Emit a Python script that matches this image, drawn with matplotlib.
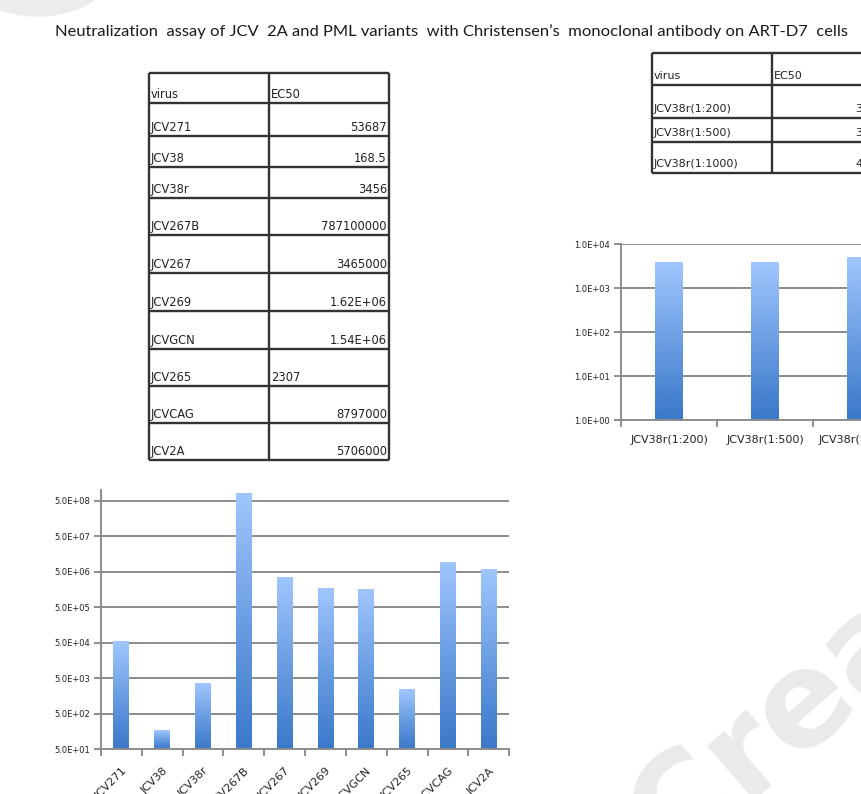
import numpy as np
import matplotlib
matplotlib.use("Agg")
import matplotlib.pyplot as plt
from matplotlib.colors import LinearSegmentedColormap
from matplotlib.image import BboxImage
from matplotlib.transforms import TransformedBbox
from matplotlib.ticker import FixedLocator, FuncFormatter, NullLocator
from matplotlib.patches import Ellipse

# ---------------- data ----------------
title = "Neutralization  assay of JCV  2A and PML variants  with Christensen\u2019s  monoclonal antibody on ART-D7  cells"

table_header = ["virus", "EC50"]
viruses = ["JCV271", "JCV38", "JCV38r", "JCV267B", "JCV267", "JCV269",
           "JCVGCN", "JCV265", "JCVCAG", "JCV2A"]
ec50 = [53687, 168.5, 3456, 787100000, 3465000, 1.62e6, 1.54e6, 2307, 8797000, 5706000]
ec50_text = ["53687", "168.5", "3456", "787100000", "3465000", "1.62E+06",
             "1.54E+06", "2307", "8797000", "5706000"]
ec50_left_aligned = [False, False, False, False, False, False, False, True, False, False]

dilutions = ["JCV38r(1:200)", "JCV38r(1:500)", "JCV38r(1:1000)"]
dil_ec50 = [3760, 3740, 4880]
dil_text = ["3760", "3740", "4880"]

bottom_yticks = [5e1, 5e2, 5e3, 5e4, 5e5, 5e6, 5e7, 5e8]
top_yticks = [1e0, 1e1, 1e2, 1e3, 1e4]

# ---------------- layout helpers ----------------
W, H = 862, 794
fig = plt.figure(figsize=(W / 100, H / 100), dpi=100)
fig.patch.set_facecolor("white")


def rect(x0, y0, x1, y1):
    return [x0 / W, 1 - y1 / H, (x1 - x0) / W, (y1 - y0) / H]


GRID = "#8c8c8c"
TXT = "#222222"
cmap = LinearSegmentedColormap.from_list("bargrad", ["#3a78c9", "#6a9ee3", "#a0c6fd"])

# overlay axes (pixel coordinates) for text, tables and watermark
ov = fig.add_axes([0, 0, 1, 1], zorder=-1)
ov.set_xlim(0, W)
ov.set_ylim(H, 0)
ov.axis("off")
ov.patch.set_visible(False)

# watermark (cut by the page edge, as in the source)
ov.add_patch(Ellipse((38, -32), 150, 96, color="#ececec", zorder=0))
ov.text(672, 866, "Crea", rotation=41, rotation_mode="anchor", ha="left",
        va="baseline", fontsize=95, color="#eaeaea", fontweight="bold",
        family="DejaVu Sans", zorder=0)

# title (fitted to width)
t = ov.text(55, 36, title, fontsize=10, family=["Lato", "DejaVu Sans"],
            va="baseline", ha="left", color="#1a1a1a")
fig.canvas.draw()
wpx = t.get_window_extent(fig.canvas.get_renderer()).width
t.set_fontsize(10 * 788 / wpx)

TABLE_FS = 8.3
LINE = dict(color="#333333", lw=1.7, solid_capstyle="butt", zorder=3)


def draw_table(rows_y, cols_x, cells, right_align_x, offset):
    for y in rows_y:
        ov.plot([cols_x[0], cols_x[-1]], [y, y], **LINE)
    for x in cols_x:
        ov.plot([x, x], [rows_y[0], rows_y[-1]], **LINE)
    for i, (name, val, left) in enumerate(cells):
        yb = rows_y[i + 1] - offset
        ov.text(cols_x[0] + 1.5, yb, name, fontsize=TABLE_FS, va="baseline",
                ha="left", color=TXT, zorder=4)
        if left:
            ov.text(cols_x[1] + 2, yb, val, fontsize=TABLE_FS, va="baseline",
                    ha="left", color=TXT, zorder=4)
        else:
            ov.text(right_align_x, yb, val, fontsize=TABLE_FS, va="baseline",
                    ha="right", color=TXT, zorder=4)


# left table
left_rows = [72.7, 103, 135.7, 166.7, 197.7, 235, 272.7, 310.7, 349.3, 385.7, 423.3, 460]
left_cols = [149, 269, 389]
cells = [(table_header[0], table_header[1], True)] + list(zip(viruses, ec50_text, ec50_left_aligned))
draw_table(left_rows, left_cols, cells, 387, 5)

# right table (cut by the page edge)
right_rows = [52.7, 85, 118.3, 141.7, 173.3]
right_cols = [651.7, 771.7, 905]
cells_r = [(table_header[0], table_header[1], True)] + [(d, v, False) for d, v in zip(dilutions, dil_text)]
for y in right_rows:
    ov.plot([right_cols[0], right_cols[-1]], [y, y], **LINE)
for x in right_cols[:2]:
    ov.plot([x, x], [right_rows[0], right_rows[-1]], **LINE)
for i, (name, val, left) in enumerate(cells_r):
    yb = right_rows[i + 1] - 6
    ov.text(right_cols[0] + 1.5, yb, name, fontsize=TABLE_FS - 0.3, va="baseline",
            ha="left", color=TXT, zorder=4)
    if left:
        ov.text(right_cols[1] + 2, yb, val, fontsize=TABLE_FS - 0.3, va="baseline",
                ha="left", color=TXT, zorder=4)
    else:
        ov.text(855, yb, val, fontsize=TABLE_FS - 0.3, va="baseline",
                ha="left", color=TXT, zorder=4)


# ---------------- bar charts ----------------
def style_chart(ax, labels, yticks, ymin, ymax):
    n = len(labels)
    ax.set_yscale("log")
    ax.set_ylim(ymin, ymax)
    ax.set_xlim(-0.5, n - 0.5)
    ax.patch.set_visible(False)
    ax.yaxis.set_major_locator(FixedLocator(yticks))
    ax.yaxis.set_minor_locator(NullLocator())
    ax.yaxis.set_major_formatter(FuncFormatter(lambda v, _: f"{v:.1E}"))
    ax.grid(axis="y", color=GRID, lw=1.4)
    ax.set_axisbelow(True)
    for s in ("top", "right"):
        ax.spines[s].set_visible(False)
    for s in ("left", "bottom"):
        ax.spines[s].set_color(GRID)
        ax.spines[s].set_linewidth(1.4)
    ax.xaxis.set_major_locator(FixedLocator(np.arange(-0.5, n, 1.0)))
    ax.xaxis.set_minor_locator(FixedLocator(np.arange(n)))
    ax.xaxis.set_major_formatter(FuncFormatter(lambda v, _: ""))
    ax.set_xticklabels(labels, minor=True)
    ax.tick_params(axis="x", which="major", length=5, width=1.4, color=GRID, direction="out")
    ax.tick_params(axis="x", which="minor", length=0, labelsize=8, labelcolor=TXT)
    ax.tick_params(axis="y", which="major", length=5, width=1.4, color=GRID,
                   labelsize=6, labelcolor=TXT, pad=3)


def gradient_bars(ax, bars):
    grad = np.linspace(0, 1, 256).reshape(-1, 1)
    for b in bars:
        b.set_facecolor("none")
        b.set_edgecolor("none")
        bb = TransformedBbox(b.get_bbox(), ax.transData)
        im = BboxImage(bb, cmap=cmap, interpolation="bicubic", origin="lower", zorder=2)
        im.set_data(grad)
        ax.add_artist(im)


# bottom chart
ax1 = fig.add_axes(rect(101, 490, 509.3, 749.3))
style_chart(ax1, viruses, bottom_yticks, 50, 1e9)
x1 = np.arange(len(viruses))
b1 = ax1.bar(x1, np.array(ec50) - 50, bottom=50, width=0.39)
gradient_bars(ax1, b1)
ax1.tick_params(axis="x", which="minor", pad=12)
for lab in ax1.get_xticklabels(minor=True):
    lab.set_rotation(45)
    lab.set_rotation_mode("anchor")
    lab.set_ha("right")
    lab.set_va("top")

# top-right chart (cut by the page edge)
ax2 = fig.add_axes(rect(621, 244, 909, 420))
style_chart(ax2, dilutions, top_yticks, 1, 1e4)
x2 = np.arange(len(dilutions))
b2 = ax2.bar(x2, np.array(dil_ec50) - 1, bottom=1, width=0.285)
gradient_bars(ax2, b2)
ax2.tick_params(axis="x", which="minor", pad=11)

fig.savefig("out.png", dpi=100, facecolor="white")
